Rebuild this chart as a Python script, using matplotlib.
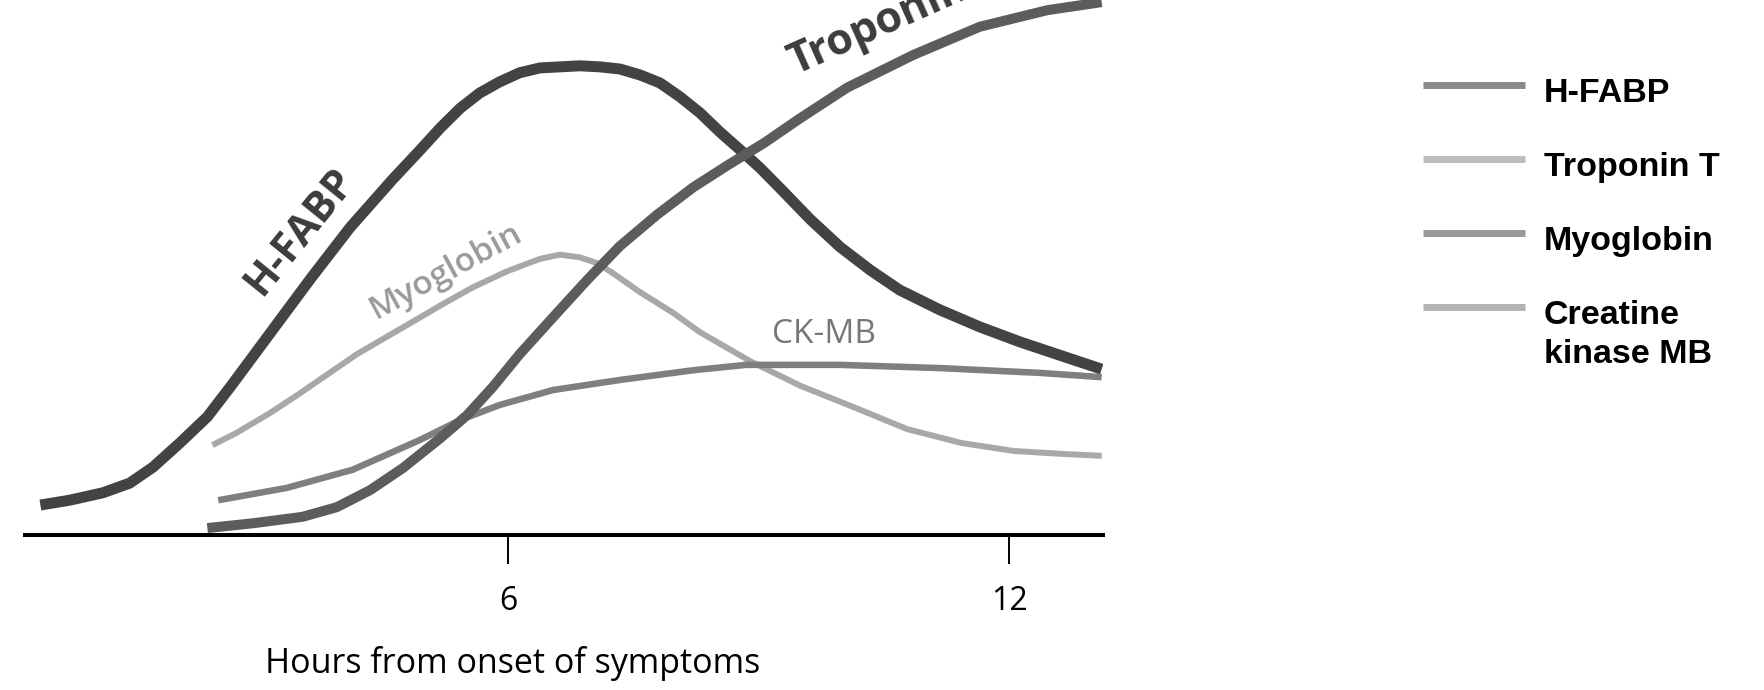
import matplotlib
matplotlib.use("Agg")
import matplotlib.pyplot as plt

# hours from onset of symptoms vs relative level (0-100)
hfabp_x = [0.40, 0.75, 1.15, 1.47, 1.75, 2.07, 2.40, 2.69, 3.16, 3.64, 4.11, 4.62, 4.95,
           5.19, 5.43, 5.66, 5.90, 6.14, 6.38, 6.62, 6.86, 7.10, 7.34, 7.58, 7.82, 8.06,
           8.30, 8.54, 8.78, 9.02, 9.26, 9.62, 9.98, 10.34, 10.69, 11.17, 11.65, 12.13,
           12.61, 13.11]
hfabp_y = [5.6, 6.5, 7.9, 9.7, 12.7, 17.2, 22.1, 28.0, 37.9, 48.0, 57.5, 66.5, 72.0,
           76.1, 79.8, 82.6, 84.7, 86.4, 87.3, 87.5, 87.7, 87.5, 87.1, 86.0, 84.5, 81.9,
           78.9, 75.3, 72.0, 68.6, 64.8, 59.0, 53.8, 49.5, 45.8, 42.1, 38.9, 36.1,
           33.6, 31.0]

trop_x = [2.40, 2.95, 3.54, 3.95, 4.35, 4.74, 5.19, 5.51, 5.82, 6.14, 6.54, 6.95, 7.34,
          7.78, 8.22, 8.65, 9.07, 9.50, 10.06, 10.85, 11.65, 12.46, 13.11]
trop_y = [1.3, 2.2, 3.4, 5.2, 8.4, 12.5, 18.1, 22.4, 27.7, 33.8, 40.7, 47.7, 54.0,
          59.8, 65.0, 69.3, 73.3, 77.9, 83.6, 89.7, 95.0, 98.1, 99.6]

myo_x = [2.46, 2.75, 3.15, 3.51, 4.19, 5.05, 5.19, 5.58, 5.99, 6.38, 6.62, 6.86, 7.07,
         7.26, 7.58, 7.98, 8.30, 8.90, 9.50, 10.14, 10.78, 11.43, 12.06, 12.71, 13.11]
myo_y = [16.8, 19.1, 22.8, 26.5, 33.8, 41.6, 42.9, 46.3, 49.3, 51.6, 52.4, 51.9, 50.8,
         48.9, 45.4, 41.5, 37.9, 32.5, 27.9, 23.9, 19.8, 17.2, 15.7, 15.1, 14.8]

ckmb_x = [2.53, 3.35, 4.14, 4.95, 5.43, 5.90, 6.54, 7.35, 8.22, 8.85, 9.98, 11.17,
          12.37, 13.11]
ckmb_y = [6.5, 8.8, 12.2, 17.8, 21.5, 24.3, 27.1, 29.0, 30.8, 31.8, 31.8, 31.2,
          30.3, 29.5]

tick_hours = [6, 12]
legend_labels = ["H-FABP", "Troponin T", "Myoglobin", "Creatine\nkinase MB"]
legend_colors = ["#8a8a8a", "#bdbdbd", "#9a9a9a", "#b3b3b3"]

fig = plt.figure(figsize=(17.64, 6.9), dpi=100)
ax = fig.add_axes([25 / 1764, 155 / 690, 1078 / 1764, 535 / 690])

line_kw = dict(solid_capstyle="butt", solid_joinstyle="round")
ax.plot(myo_x, myo_y, color="#a8a8a8", lw=4.3, zorder=2, **line_kw)
ax.plot(ckmb_x, ckmb_y, color="#7f7f7f", lw=4.7, zorder=3, **line_kw)
ax.plot(hfabp_x, hfabp_y, color="#434343", lw=7.9, zorder=4, **line_kw)
ax.plot(trop_x, trop_y, color="#5c5c5c", lw=7.2, zorder=5, **line_kw)

# labels along the curves
ax.text(3.51, 56.6, "H-FABP", rotation=51, rotation_mode="anchor", ha="center", va="center",
        fontsize=30, fontweight="bold", color="#3c3c3c", family="Open Sans")
ax.text(9.44, 86.0, "Troponin", rotation=24, rotation_mode="anchor", ha="left", va="baseline",
        fontsize=31, fontweight="bold", color="#3c3c3c", family="Open Sans")
ax.text(5.26, 49.3, "Myoglobin", rotation=28.5, rotation_mode="anchor", ha="center", va="center",
        fontsize=24, fontweight="semibold", color="#9a9a9a", family="Open Sans")
ax.text(9.78, 37.4, "CK-MB", ha="center", va="center",
        fontsize=24, color="#777777", family="Open Sans")

ax.set_xlim(0.2156, 13.126)
ax.set_ylim(0, 100)
for s in ["left", "right", "top"]:
    ax.spines[s].set_visible(False)
ax.spines["bottom"].set_linewidth(2.9)
ax.spines["bottom"].set_color("black")
ax.set_yticks([])
ax.set_xticks(tick_hours)
ax.set_xticklabels([str(t) for t in tick_hours], family="Open Sans", fontsize=23)
ax.tick_params(axis="x", direction="out", length=21, width=1.4, pad=15, color="black")
ax.set_xlabel("Hours from onset of symptoms", family="Open Sans", fontsize=24.5, va="center")
ax.xaxis.set_label_coords(0.452, -0.241)

# legend drawn by hand so the key lines up with the first text line
lax = fig.add_axes([0, 0, 1, 1])
lax.set_xlim(0, 1764)
lax.set_ylim(690, 0)
lax.axis("off")
for i, (lab, col) in enumerate(zip(legend_labels, legend_colors)):
    yk = 85 + i * 74
    lax.plot([1423, 1525], [yk, yk], color=col, lw=5, solid_capstyle="butt")
    # va='baseline' follows the last line of a multi-line label
    lax.text(1544, yk + 17 + 39 * lab.count("\n"), lab, ha="left", va="baseline",
             fontsize=24.5, fontweight="bold", family="Liberation Sans", color="black",
             linespacing=1.34)

fig.savefig("out.png", dpi=100)
